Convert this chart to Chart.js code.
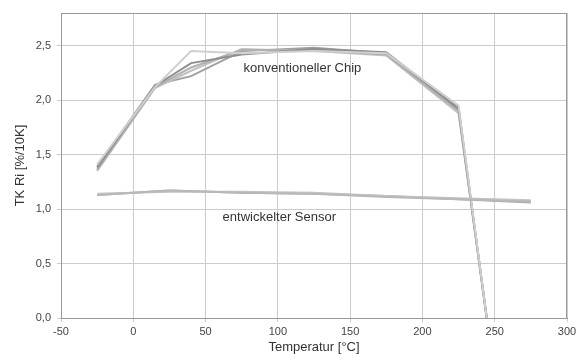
<!DOCTYPE html>
<html>
<head>
<meta charset="utf-8">
<script src="https://cdn.jsdelivr.net/npm/chart.js@4/dist/chart.umd.min.js"></script>
<style>
  html, body { margin: 0; padding: 0; background: #fff; }
  #wrap { width: 581px; height: 355px; }
</style>
</head>
<body>
<div id="wrap"><canvas id="tkChart"></canvas></div>
<script>
// Temperature points of the measurement series
const chipTemps = [-25, 15, 40, 75, 125, 175, 225, 245];
const sensorTemps = [-25, 25, 75, 125, 175, 225, 275];

// conventional chip, several samples
const chipA = [1.41, 2.12, 2.45, 2.43, 2.45, 2.43, 1.95, -0.05];
const chipB = [1.38, 2.13, 2.34, 2.42, 2.47, 2.44, 1.92, -0.05];
const chipC = [1.36, 2.12, 2.30, 2.46, 2.46, 2.42, 1.90, -0.06];
const chipD = [1.35, 2.11, 2.27, 2.47, 2.45, 2.41, 1.88, -0.04];
const chipE = [1.39, 2.14, 2.22, 2.45, 2.48, 2.43, 1.93, -0.05];

// developed sensor, several samples
const sensorA = [1.13, 1.17, 1.15, 1.14, 1.11, 1.09, 1.07];
const sensorB = [1.14, 1.16, 1.16, 1.15, 1.12, 1.10, 1.08];
const sensorC = [1.13, 1.17, 1.15, 1.14, 1.12, 1.09, 1.06];

const xTicks = [-50, 0, 50, 100, 150, 200, 250, 300];
const yTicks = [0, 0.5, 1.0, 1.5, 2.0, 2.5];

// text labels inside the plot, in data coordinates
const notes = [
    { text: 'konventioneller Chip', x: 117, y: 2.29 },
    { text: 'entwickelter Sensor', x: 101, y: 0.925 }
];

function series(xs, ys) {
    return xs.map((x, i) => ({ x: x, y: ys[i] }));
}

function lineSet(xs, ys, color) {
    return {
        data: series(xs, ys),
        borderColor: color,
        borderWidth: 2,
        pointRadius: 0,
        tension: 0,
        fill: false
    };
}

const notesPlugin = {
    id: 'notes',
    afterDatasetsDraw(chart) {
        const ctx = chart.ctx;
        const xs = chart.scales.x, ys = chart.scales.y;
        ctx.save();
        ctx.font = '13px "Liberation Sans", Arial, sans-serif';
        ctx.fillStyle = '#333';
        ctx.textAlign = 'center';
        ctx.textBaseline = 'middle';
        notes.forEach(n => {
            ctx.fillText(n.text, xs.getPixelForValue(n.x), ys.getPixelForValue(n.y));
        });
        ctx.restore();
    }
};

const borderPlugin = {
    id: 'plotBorder',
    beforeDatasetsDraw(chart) {
        const a = chart.chartArea, ctx = chart.ctx;
        ctx.save();
        ctx.strokeStyle = '#999';
        ctx.lineWidth = 1;
        ctx.strokeRect(a.left + 0.5, a.top + 0.5, a.right - a.left - 1, a.bottom - a.top);
        ctx.restore();
    }
};

function createChart() {
    const ctx = document.getElementById('tkChart').getContext('2d');
    new Chart(ctx, {
        type: 'line',
        data: {
            datasets: [
                lineSet(sensorTemps, sensorA, '#b8b8b8'),
                lineSet(sensorTemps, sensorB, '#c4c4c4'),
                lineSet(sensorTemps, sensorC, '#aaaaaa'),
                lineSet(chipTemps, chipA, '#cfcfcf'),
                lineSet(chipTemps, chipB, '#8f8f8f'),
                lineSet(chipTemps, chipC, '#b0b0b0'),
                lineSet(chipTemps, chipD, '#c0c0c0'),
                lineSet(chipTemps, chipE, '#a0a0a0')
            ]
        },
        options: {
            responsive: true,
            maintainAspectRatio: false,
            animation: false,
            layout: { padding: { top: 13, right: 14, left: 0, bottom: 0 } },
            plugins: {
                legend: { display: false },
                tooltip: { enabled: false }
            },
            scales: {
                x: {
                    type: 'linear',
                    min: -50,
                    max: 300,
                    afterBuildTicks: s => { s.ticks = xTicks.map(v => ({ value: v })); },
                    afterFit: s => { s.height = 37; },
                    grid: { color: '#cccccc', tickLength: 4 },
                    border: { color: '#999' },
                    ticks: {
                        color: '#444',
                        font: { family: '"Liberation Sans", Arial, sans-serif', size: 11 },
                        padding: 3,
                        maxRotation: 0
                    },
                    title: {
                        display: true,
                        text: 'Temperatur [°C]',
                        color: '#333',
                        font: { family: '"Liberation Sans", Arial, sans-serif', size: 13 },
                        padding: { top: 0, bottom: 0 }
                    }
                },
                y: {
                    min: 0,
                    max: 2.8,
                    afterBuildTicks: s => { s.ticks = yTicks.map(v => ({ value: v })); },
                    afterFit: s => { s.width = 61; },
                    grid: { color: '#cccccc', tickLength: 4 },
                    border: { color: '#999' },
                    ticks: {
                        color: '#444',
                        font: { family: '"Liberation Sans", Arial, sans-serif', size: 11 },
                        padding: 6,
                        callback: v => v.toFixed(1).replace('.', ',')
                    },
                    title: {
                        display: true,
                        text: 'TK Ri [%/10K]',
                        color: '#333',
                        font: { family: '"Liberation Sans", Arial, sans-serif', size: 13 },
                        padding: { top: 13, bottom: 4 }
                    }
                }
            }
        },
        plugins: [borderPlugin, notesPlugin]
    });
}

window.onload = function () {
    createChart();
};
</script>
</body>
</html>
